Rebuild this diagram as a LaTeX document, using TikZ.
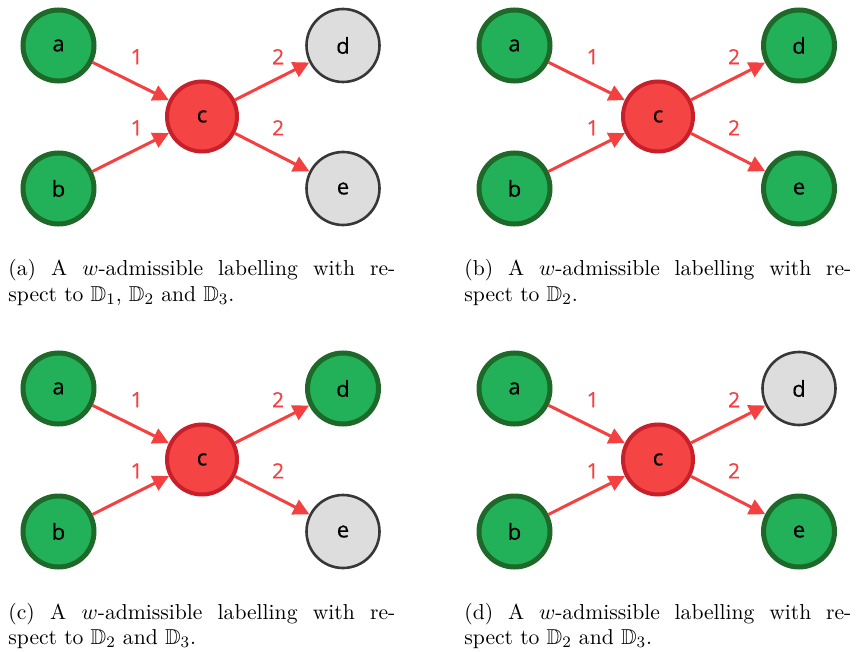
\documentclass[tikz,border=0pt]{standalone}
\usepackage{amssymb}
\usepackage{fontspec}
\newfontfamily\graphfont{Open Sans}[FakeBold=0.35]
\usetikzlibrary{arrows.meta}

\definecolor{gfill}{RGB}{34,176,88}
\definecolor{gline}{RGB}{30,105,42}
\definecolor{rfill}{RGB}{244,68,68}
\definecolor{rline}{RGB}{200,32,42}
\definecolor{nfill}{RGB}{221,221,221}
\definecolor{nline}{RGB}{55,55,55}
\definecolor{arc}{RGB}{244,64,64}

\tikzset{
  vtx/.style={circle, inner sep=0pt, text=black,
    font=\graphfont\fontsize{11}{12}\selectfont},
  accepted/.style={vtx, fill=gfill, draw=gline, line width=2.5pt, minimum size=35.5pt},
  attacked/.style={vtx, fill=rfill, draw=rline, line width=2pt, minimum size=35pt},
  undecided/.style={vtx, fill=nfill, draw=nline, line width=1.3pt, minimum size=36.5pt},
  attack/.style={-{Triangle[length=8pt,width=8pt]}, draw=arc, line width=1.5pt},
  lbl/.style={midway, xshift=3pt, yshift=12.25pt, inner sep=0pt, text=arc,
    font=\graphfont\fontsize{10.5}{12}\selectfont},
  caption/.style={anchor=base west, inner sep=0pt, text width=193.5pt,
    align=justify, font=\fontsize{10.8}{12.8}\selectfont}
}

% one labelled graph with its caption; #1,#2 offset, #3 name suffix,
% #4 and #5 styles of d and e, #6 caption text
\newcommand\drawpanel[6]{%
  \begin{scope}[shift={(#1,#2)}]
    \node[accepted]  (a#3) at (58.5,45.5)  {a};
    \node[accepted]  (b#3) at (58.5,188.5) {b};
    \node[attacked]  (c#3) at (202,116.5)  {c};
    \node[#4]        (d#3) at (343,45.5)   {d};
    \node[#5]        (e#3) at (343,188.5)  {e};
    \draw[attack] (a#3) -- node[lbl] {1} (c#3);
    \draw[attack] (b#3) -- node[lbl] {1} (c#3);
    \draw[attack] (c#3) -- node[lbl] {2} (d#3);
    \draw[attack] (c#3) -- node[lbl] {2} (e#3);
    \node[caption] (cap#3) at (8,276) {#6};
  \end{scope}}

\begin{document}
\begin{tikzpicture}[x=0.5pt, y=-0.5pt]
  \useasboundingbox (0,0) rectangle (856,652);
  \drawpanel{0}{0}{A}{undecided}{undecided}
    {(a) A $w$-admissible labelling with re-\linebreak spect to $\mathbb{D}_1$, $\mathbb{D}_2$ and $\mathbb{D}_3$.}
  \drawpanel{456}{0}{B}{accepted}{accepted}
    {(b) A $w$-admissible labelling with re-\linebreak spect to $\mathbb{D}_2$.}
  \drawpanel{0}{343}{C}{accepted}{undecided}
    {(c) A $w$-admissible labelling with re-\linebreak spect to $\mathbb{D}_2$ and $\mathbb{D}_3$.}
  \drawpanel{456}{343}{D}{undecided}{accepted}
    {(d) A $w$-admissible labelling with re-\linebreak spect to $\mathbb{D}_2$ and $\mathbb{D}_3$.}
\end{tikzpicture}
\end{document}
